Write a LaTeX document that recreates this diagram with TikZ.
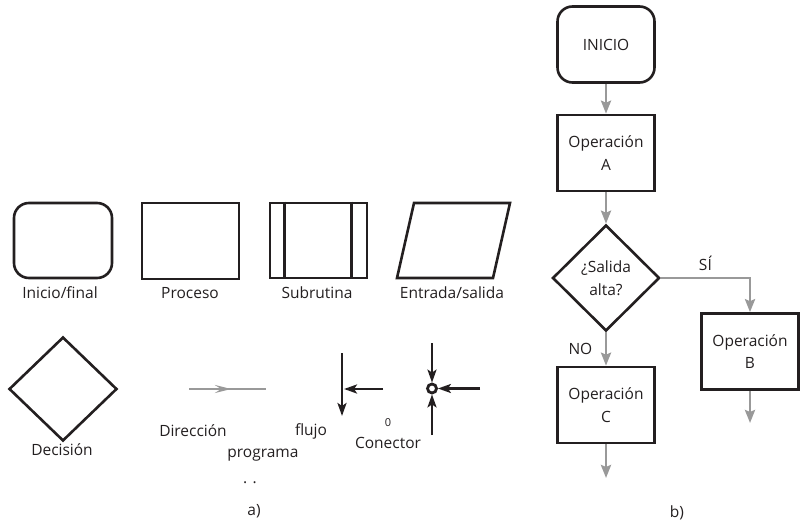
\documentclass[tikz,border=0pt]{standalone}
\usepackage{fontspec}
\setmainfont{Open Sans}
\usepackage{tikz}
\usetikzlibrary{positioning,arrows.meta,shapes.geometric,calc}
\definecolor{ink}{HTML}{231F20}
\definecolor{flow}{HTML}{999999}

\tikzset{
  outline/.style={draw=ink, line width=2.6pt},
  box/.style={outline, inner sep=0pt, align=center, text=ink},
  termbox/.style={box, rounded corners=15pt, minimum width=97pt, minimum height=76pt},
  procbox/.style={box, minimum width=97pt, minimum height=76pt},
  decbox/.style={box, diamond, minimum width=107pt, minimum height=106pt},
  flowarr/.style={draw=flow, line width=2.8pt, -{Stealth[length=13pt,width=10pt,inset=2pt]}},
  inkarr/.style={draw=ink, line width=2.6pt, -{Stealth[length=13pt,width=9pt,inset=3pt]}},
  lbl/.style={anchor=base, text=ink},
}

\begin{document}
\begin{tikzpicture}[x=1pt, y=-1pt, font=\fontsize{15.5}{22.5}\selectfont]
  \useasboundingbox (0,0) rectangle (803,524);

  \node[termbox, minimum width=98pt, minimum height=75pt] (term) at (63,240.5) {};
  \node[lbl] (lterm) at (60,298) {Inicio/final};
  \node[procbox] (proc) at (190.5,241) {};
  \node[lbl] (lproc) at (190,298) {Proceso};
  \node[procbox, minimum height=75pt] (sub) at (318.5,240.5) {};
  \draw[outline] ($(sub.north west)+(16,0)$) -- ($(sub.south west)+(16,0)$);
  \draw[outline] ($(sub.north east)+(-17,0)$) -- ($(sub.south east)+(-17,0)$);
  \node[lbl] (lsub) at (317,298) {Subrutina};
  \draw[outline] (397,278) -- (414,203) -- (510,203) -- (493,278) -- cycle;
  \node[lbl] (lio) at (452,298) {Entrada/salida};

  \node[decbox, minimum width=108pt, minimum height=104pt] (dec) at (63,389) {};
  \node[lbl] (ldec) at (62,455) {Decisión};

  \coordinate (dir1) at (189,389);
  \coordinate (dir2) at (266,389);
  \coordinate (dirm) at (231,389);
  \draw[flow, line width=2.8pt] (dir1) -- (dir2);
  \draw[flow, line width=2.8pt, -{Stealth[length=16pt,width=8pt,inset=6pt]}] (dir1) -- (dirm);
  \node[lbl] (ldir) at (193,436) {Dirección};
  \node[lbl] (lprog) at (263,457) {programa};
  \node[lbl] (lflujo) at (311,435) {flujo};
  \node[lbl] (ldots) at (250,483) {. .};

  \coordinate (fv1) at (342,353);
  \coordinate (fv2) at (342,416);
  \coordinate (fh1) at (383,389);
  \coordinate (fh2) at (344,389);
  \draw[inkarr] (fv1) -- (fv2);
  \draw[inkarr] (fh1) -- (fh2);

  \node[circle, draw=ink, line width=2.8pt, minimum size=9pt, inner sep=0pt] (conn) at (432,388.5) {};
  \coordinate (cn) at (432,343);
  \coordinate (cs) at (432,435);
  \coordinate (ce) at (480,388.5);
  \draw[inkarr] (cn) -- (conn.north);
  \draw[inkarr] (cs) -- (conn.south);
  \draw[inkarr] (ce) -- (conn.east);
  \node[lbl, font=\fontsize{11}{13}\selectfont] (lcero) at (388,426) {0};
  \node[lbl] (lconn) at (388,448) {Conector};
  \node[lbl] (la) at (254,515) {a)};

  \node[termbox] (ini) at (606,44.5) {INICIO};
  \node[procbox] (opa) at (606,153) {Operación\\A};
  \node[decbox] (sal) at (606,278) {¿Salida\\alta?};
  \node[procbox] (opb) at (750,351.5) {Operación\\B};
  \node[procbox] (opc) at (606,405) {Operación\\C};
  \coordinate (finb) at (750,423);
  \coordinate (finc) at (606,478);
  \draw[flowarr] (ini) -- (opa);
  \draw[flowarr] (opa) -- (sal);
  \draw[flowarr] (sal.east) -| node[pos=0.25, above=3pt, text=ink] (lsi) {SÍ} (opb.north);
  \draw[flowarr] (sal) -- node[left=9pt, text=ink] (lno) {NO} (opc);
  \draw[flowarr] (opb) -- (finb);
  \draw[flowarr] (opc) -- (finc);
  \node[lbl] (lb) at (677,517) {b)};
\end{tikzpicture}
\end{document}
